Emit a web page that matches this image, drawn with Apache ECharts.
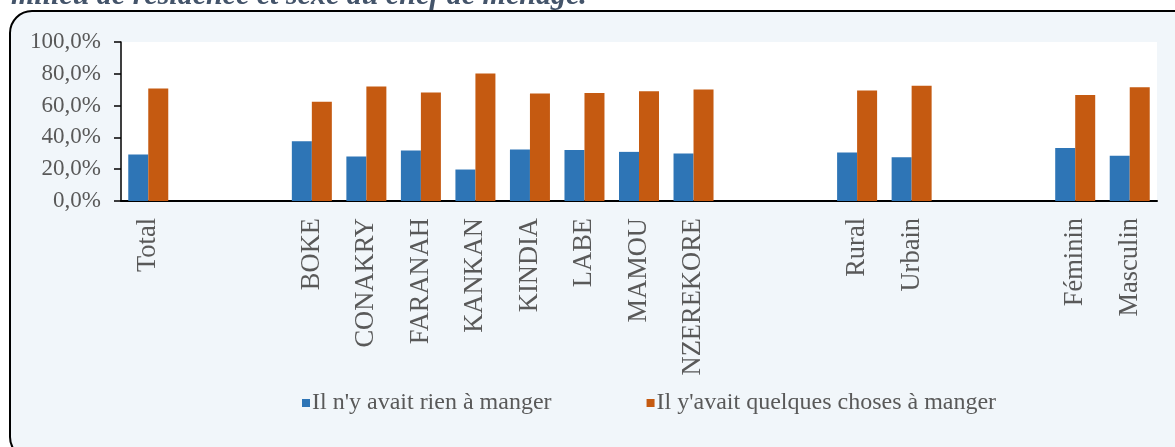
<!DOCTYPE html>
<html>
<head>
<meta charset="utf-8">
<script src="https://cdn.jsdelivr.net/npm/echarts@6/dist/echarts.min.js"></script>
<style>
  html, body { margin: 0; padding: 0; background: #fff; }
  #chart { width: 1175px; height: 447px; }
</style>
</head>
<body>
<div id="chart"></div>
<script>
// categories (blank slots keep the gaps between groups)
var categories = ['Total', ' ', '  ', 'BOKE', 'CONAKRY', 'FARANAH', 'KANKAN', 'KINDIA', 'LABE', 'MAMOU', 'NZEREKORE',
  '   ', '    ', 'Rural', 'Urbain', '     ', '      ', 'Féminin', 'Masculin'];
var rienValues = [29.2, null, null, 37.6, 28.0, 31.7, 19.8, 32.4, 32.0, 30.9, 29.9, null, null, 30.5, 27.5, null, null, 33.4, 28.4];
var quelquesValues = [70.8, null, null, 62.4, 72.0, 68.3, 80.2, 67.6, 68.0, 69.1, 70.1, null, null, 69.5, 72.5, null, null, 66.6, 71.6];
var yTicks = [0, 20, 40, 60, 80, 100];
var seriesNames = ["Il n'y avait rien à manger", "Il y'avait quelques choses à manger"];

var font = '"Liberation Serif", "Times New Roman", serif';
var myChart = echarts.init(document.getElementById('chart'));

myChart.setOption({
  animation: false,
  backgroundColor: '#fff',
  graphic: [
    {
      type: 'rect',
      z: -10,
      shape: { x: 10, y: 11, width: 1185, height: 448, r: 22 },
      style: { fill: '#f1f6fa', stroke: '#000', lineWidth: 2 }
    },
    {
      type: 'rect',
      z: -9,
      shape: { x: 121, y: 42, width: 1036, height: 159 },
      style: { fill: '#fff' }
    },
    {
      type: 'text',
      x: 11,
      y: -4,
      style: {
        text: 'milieu de résidence et sexe du chef de ménage.',
        font: 'italic bold 30px ' + font,
        fill: '#44546a',
        verticalAlign: 'middle'
      }
    }
  ],
  grid: { left: 121, right: 18, top: 42, bottom: 246, containLabel: false },
  legend: {
    top: 386,
    left: 297,
    itemWidth: 8,
    itemHeight: 8,
    itemGap: 95,
    icon: 'rect',
    textStyle: { fontFamily: font, fontSize: 24, color: '#595959', padding: [0, 0, 0, -3] },
    data: seriesNames
  },
  xAxis: {
    type: 'category',
    data: categories,
    axisLine: { lineStyle: { color: '#000', width: 2 } },
    axisTick: { show: false },
    axisLabel: {
      interval: 0,
      rotate: 90,
      margin: 17,
      fontFamily: font,
      fontSize: 26.5,
      color: '#595959'
    }
  },
  yAxis: {
    type: 'value',
    min: yTicks[0],
    max: yTicks[yTicks.length - 1],
    interval: 20,
    splitLine: { show: false },
    axisLine: { show: true, lineStyle: { color: '#000', width: 1.5 } },
    axisTick: { show: true, length: 7, lineStyle: { color: '#000', width: 1.5 } },
    axisLabel: {
      margin: 20,
      fontFamily: font,
      fontSize: 23,
      color: '#595959',
      formatter: function (v) { return v.toFixed(1).replace('.', ',') + '%'; }
    }
  },
  series: [
    {
      name: seriesNames[0],
      type: 'bar',
      data: rienValues,
      barWidth: 20,
      barGap: '0%',
      itemStyle: { color: '#2e75b6' }
    },
    {
      name: seriesNames[1],
      type: 'bar',
      data: quelquesValues,
      barWidth: 20,
      barGap: '0%',
      itemStyle: { color: '#c55a11' }
    }
  ]
});
</script>
</body>
</html>
